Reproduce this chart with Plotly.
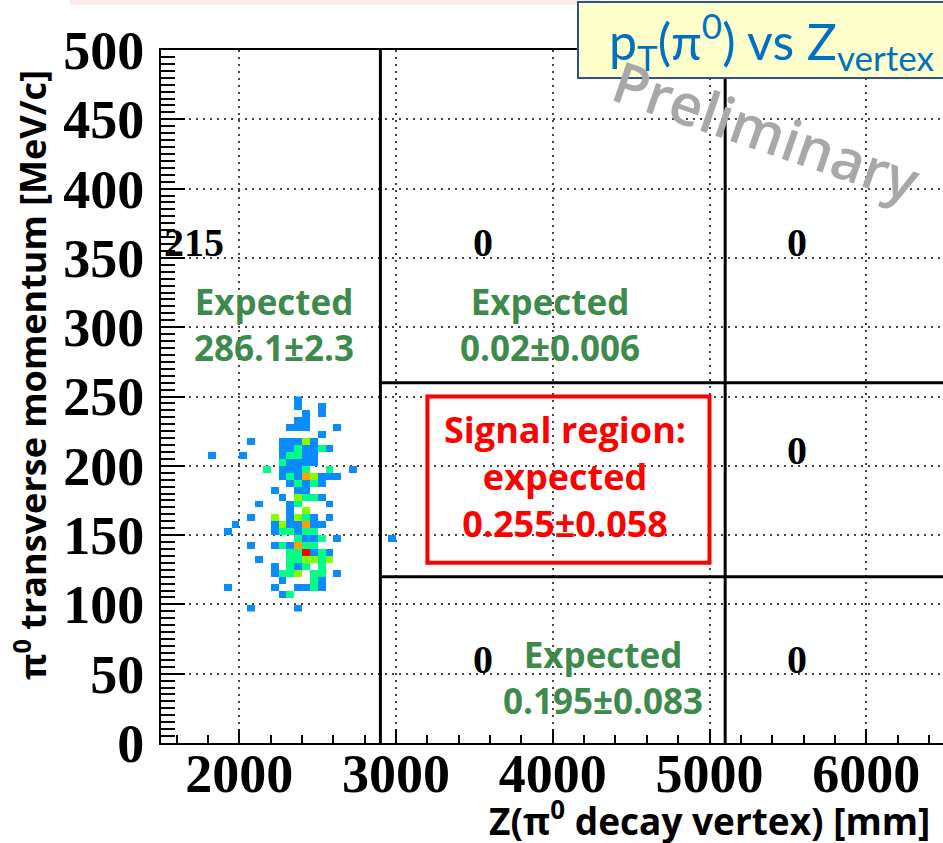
import numpy as np
import plotly.graph_objects as go

# ---- data: 2D histogram cells (Z bin low edge [mm], pT bin low edge [MeV/c], entries)
hist_cells = [
    (2350, 245, 1),
    (2350, 240, 1), (2500, 240, 1),
    (2400, 235, 1), (2500, 235, 1),
    (2350, 230, 1), (2400, 230, 1),
    (2300, 225, 1), (2350, 225, 1), (2400, 225, 1), (2600, 225, 1),
    (2500, 220, 1),
    (2050, 215, 1), (2250, 215, 1), (2300, 215, 1), (2350, 215, 1), (2400, 215, 3), (2450, 215, 1),
    (2250, 210, 1), (2300, 210, 1), (2350, 210, 2), (2400, 210, 1), (2450, 210, 1), (2500, 210, 2), (2550, 210, 1),
    (1800, 205, 1), (2000, 205, 1), (2250, 205, 1), (2300, 205, 2), (2350, 205, 2), (2400, 205, 1), (2450, 205, 1),
    (2250, 200, 2), (2300, 200, 1), (2350, 200, 1), (2400, 200, 1), (2450, 200, 1),
    (2150, 195, 2), (2250, 195, 1), (2300, 195, 1), (2350, 195, 1), (2400, 195, 2), (2550, 195, 2), (2700, 195, 1),
    (2250, 190, 1), (2300, 190, 2), (2350, 190, 1), (2400, 190, 4), (2450, 190, 3), (2500, 190, 1), (2550, 190, 1), (2600, 190, 1),
    (2300, 185, 1), (2350, 185, 2), (2400, 185, 1), (2450, 185, 2), (2500, 185, 1),
    (2200, 180, 1), (2350, 180, 1), (2400, 180, 1),
    (2250, 175, 1), (2350, 175, 3), (2400, 175, 2), (2450, 175, 2), (2500, 175, 1),
    (2100, 170, 1), (2300, 170, 1), (2350, 170, 2), (2550, 170, 1),
    (2300, 165, 1), (2400, 165, 3),
    (2050, 160, 1), (2200, 160, 3), (2300, 160, 1), (2350, 160, 3), (2400, 160, 2), (2450, 160, 1), (2550, 160, 1),
    (1950, 155, 1), (2200, 155, 1), (2250, 155, 3), (2300, 155, 1), (2350, 155, 1), (2400, 155, 4), (2450, 155, 1), (2500, 155, 1),
    (1900, 150, 1), (2200, 150, 1), (2250, 150, 2), (2300, 150, 2), (2350, 150, 1), (2400, 150, 2), (2450, 150, 2),
    (2350, 145, 2), (2400, 145, 1), (2450, 145, 1), (2500, 145, 2), (2600, 145, 1), (2950, 145, 1),
    (2050, 140, 1), (2200, 140, 1), (2250, 140, 2), (2300, 140, 1), (2350, 140, 4), (2400, 140, 2), (2450, 140, 2),
    (2300, 135, 2), (2350, 135, 2), (2400, 135, 5), (2450, 135, 1), (2500, 135, 2), (2550, 135, 1),
    (2100, 130, 1), (2300, 130, 2), (2350, 130, 2), (2400, 130, 3), (2450, 130, 3), (2500, 130, 2), (2550, 130, 3),
    (2200, 125, 1), (2300, 125, 2), (2350, 125, 1), (2400, 125, 2), (2500, 125, 2),
    (2200, 120, 1), (2250, 120, 2), (2300, 120, 2), (2350, 120, 3), (2450, 120, 2), (2500, 120, 2), (2600, 120, 1),
    (2250, 115, 1), (2450, 115, 2), (2500, 115, 1),
    (1900, 110, 1), (2200, 110, 1), (2350, 110, 1), (2400, 110, 1), (2450, 110, 2), (2500, 110, 1),
    (2250, 105, 1), (2300, 105, 2),
    (2050, 95, 1), (2350, 95, 1),
]
z_bin_width = 50
pt_bin_width = 5

# region boundaries
region_z = [2900, 5100]
region_pt = [120, 260]
signal_box_z = [3200, 5000]
signal_box_pt = [130, 250]

# region count labels: (z, pt, text)
total_label = (1506, 361, "215")
count_labels = [(3555, 361, "0"), (5560, 361, "0"),
                (5560, 211, "0"), (3555, 60, "0"), (5560, 60, "0")]
expected_labels = [(2220, 302, "Expected<br>286.1±2.3"),
                   (3985, 302, "Expected<br>0.02±0.006"),
                   (4320, 47, "Expected<br>0.195±0.083")]
signal_label = (4080, 192, "Signal region:<br>expected<br>0.255±0.058")

x_range = [1500, 6490]
y_range = [0, 500]
x_ticks = [2000, 3000, 4000, 5000, 6000]
y_ticks = [0, 50, 100, 150, 200, 250, 300, 350, 400, 450, 500]

# ---- build histogram grid
z_lows = np.arange(1800, 3000, z_bin_width)
pt_lows = np.arange(95, 250, pt_bin_width)
grid = [[None] * len(z_lows) for _ in pt_lows]
for zz, pp, nn in hist_cells:
    grid[(pp - 95) // pt_bin_width][(zz - 1800) // z_bin_width] = nn

c1, c2, c3, c4, c5 = "#0a8cff", "#00ff84", "#84ff00", "#ffa000", "#ff0000"
cscale = [[0, c1], [0.2, c1], [0.2, c2], [0.4, c2], [0.4, c3], [0.6, c3],
          [0.6, c4], [0.8, c4], [0.8, c5], [1, c5]]

fig = go.Figure()
fig.add_trace(go.Heatmap(
    x=(z_lows + z_bin_width / 2).tolist(), y=(pt_lows + pt_bin_width / 2).tolist(), z=grid,
    colorscale=cscale, zmin=0.5, zmax=5.5, showscale=False, hoverinfo="skip"))

L, T, B, W, H = 161, 50, 100, 943, 843
PW, PH = W - L, H - T - B


def px(xp):
    return (xp - L) / PW


def py(yp):
    return (H - B - yp) / PH


shapes = []
for zv in region_z:
    shapes.append(dict(type="line", xref="x", yref="y", x0=zv, x1=zv, y0=y_range[0], y1=y_range[1],
                       line=dict(color="black", width=3)))
for pv in region_pt:
    shapes.append(dict(type="line", xref="x", yref="y", x0=region_z[0], x1=x_range[1], y0=pv, y1=pv,
                       line=dict(color="black", width=3)))
shapes.append(dict(type="rect", xref="x", yref="y", x0=signal_box_z[0], x1=signal_box_z[1],
                   y0=signal_box_pt[0], y1=signal_box_pt[1], line=dict(color="#ff0000", width=4)))
# faint pink band at very top (slide decoration)
shapes.append(dict(type="rect", xref="paper", yref="paper", x0=px(70), x1=px(600), y0=py(5), y1=py(0),
                   line=dict(width=0), fillcolor="rgba(250,200,200,0.35)", layer="below"))
# title box
shapes.append(dict(type="rect", xref="paper", yref="paper", x0=px(578), x1=px(980), y0=py(78), y1=py(2),
                   line=dict(color="#2f528f", width=2), fillcolor="#ffffcc"))

serif_bold = dict(family="Liberation Serif", size=40, color="black", weight="bold")
annotations = [dict(x=total_label[0], y=total_label[1], xref="x", yref="y", text=total_label[2],
                    xanchor="left", showarrow=False, font=serif_bold)]
for zz, pp, tt in count_labels:
    annotations.append(dict(x=zz, y=pp, xref="x", yref="y", text=tt, showarrow=False, font=serif_bold))
for zz, pp, tt in expected_labels:
    annotations.append(dict(x=zz, y=pp, xref="x", yref="y", text=tt, showarrow=False,
                            font=dict(family="Open Sans", size=35, color="#3d8a4c", weight="bold")))
annotations.append(dict(x=signal_label[0], y=signal_label[1], xref="x", yref="y", text=signal_label[2],
                        showarrow=False, font=dict(family="Open Sans", size=36, color="#ff0000", weight="bold")))
annotations.append(dict(x=px(766), y=py(130), xref="paper", yref="paper", xanchor="center", yanchor="middle",
                        text="Preliminary", showarrow=False, textangle=19,
                        font=dict(family="Open Sans", size=57, color="#a8a8a8", weight=600)))
annotations.append(dict(x=px(607), y=py(41), xref="paper", yref="paper", xanchor="left", yanchor="middle",
                        text="p<sub>T</sub>(π<sup>0</sup>) vs Z<sub>vertex</sub>", showarrow=False,
                        font=dict(family="Lato", size=50, color="#0070c0")))
annotations.append(dict(x=px(30), y=py(68), xref="paper", yref="paper", xanchor="center", yanchor="top",
                        text="π<sup>0</sup> transverse momentum [MeV/c]", textangle=-90, showarrow=False,
                        font=dict(family="Open Sans", size=36, color="black", weight="bold")))
annotations.append(dict(x=px(932), y=py(819), xref="paper", yref="paper", xanchor="right", yanchor="middle",
                        text="Z(π<sup>0</sup> decay vertex) [mm]", showarrow=False,
                        font=dict(family="Open Sans", size=37, color="black", weight="bold")))

tickfont = dict(family="Liberation Serif", size=54, color="black", weight="bold")
fig.update_layout(
    width=W, height=H, margin=dict(l=L, r=0, t=T, b=B),
    paper_bgcolor="white", plot_bgcolor="white",
    shapes=shapes, annotations=annotations, showlegend=False,
    xaxis=dict(range=x_range, tickvals=x_ticks, ticks="inside", ticklen=14, tickwidth=2, tickcolor="black",
               showline=True, linecolor="black", linewidth=2, mirror=True,
               showgrid=True, gridcolor="#444", gridwidth=2, griddash="2px,5px", zeroline=False,
               tickfont=tickfont, ticklabelstandoff=-18,
               minor=dict(dtick=200, tick0=0, ticks="inside", ticklen=8, tickwidth=2, tickcolor="black",
                          showgrid=False)),
    yaxis=dict(range=y_range, tickvals=y_ticks, ticks="inside", ticklen=24, tickwidth=2, tickcolor="black",
               showline=True, linecolor="black", linewidth=2, mirror=False,
               showgrid=True, gridcolor="#444", gridwidth=2, griddash="2px,5px", zeroline=False,
               tickfont=tickfont, ticklabelstandoff=4,
               minor=dict(dtick=5, tick0=0, ticks="inside", ticklen=14, tickwidth=2, tickcolor="black",
                          showgrid=False)),
)
fig.write_html("out.html")
